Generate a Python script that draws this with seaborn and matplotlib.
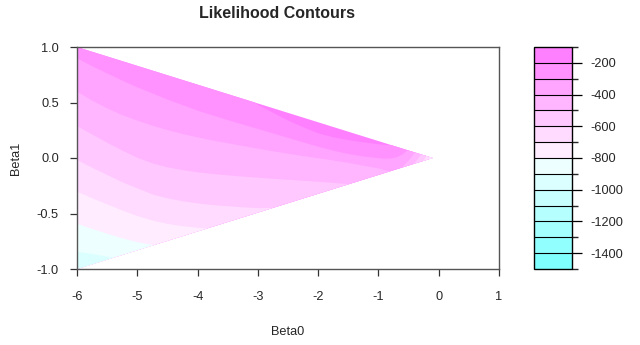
import numpy as np
import matplotlib
matplotlib.use("Agg")
import matplotlib.pyplot as plt
import seaborn as sns
from matplotlib.patches import Polygon
from matplotlib.colors import ListedColormap, BoundaryNorm
from matplotlib.cm import ScalarMappable

# contour lines: Beta1 position of each level at these Beta0 values
# (points outside the triangle only keep the curves in order; they are clipped away)
beta0 = [-6, -5.75, -5.5, -5.25, -5, -4.75, -4.5, -4.25, -4, -3.75, -3.5, -3.25, -3, -2.75,
         -2.5, -2.25, -2, -1.75, -1.5, -1.25, -1, -0.9, -0.8, -0.7, -0.6, -0.5, -0.45, -0.4,
         -0.35, -0.3, -0.25, -0.2, -0.16, -0.12, -0.1]

lev_m900 = [-0.84, -0.86, -0.885, -0.91, -1.3, -1.3, -1.3, -1.3, -1.3, -1.3, -1.3, -1.3, -1.3, -1.3,
            -1.3, -1.3, -1.3, -1.3, -1.3, -1.3, -1.3, -1.3, -1.3, -1.3, -1.3, -1.3, -1.3, -1.3,
            -1.3, -1.3, -1.3, -1.3, -1.3, -1.3, -1.3]
lev_m800 = [-0.59, -0.635, -0.68, -0.72, -0.755, -0.78, -0.80, -1.2, -1.2, -1.2, -1.2, -1.2, -1.2, -1.2,
            -1.2, -1.2, -1.2, -1.2, -1.2, -1.2, -1.2, -1.2, -1.2, -1.2, -1.2, -1.2, -1.2, -1.2,
            -1.2, -1.2, -1.2, -1.2, -0.15, 0.0, 0.05]
lev_m700 = [-0.30, -0.36, -0.415, -0.47, -0.52, -0.56, -0.59, -0.61, -0.625, -0.635, -0.70, -1.1, -1.1, -1.1,
            -1.1, -1.1, -1.1, -1.1, -1.1, -1.1, -1.1, -1.1, -1.1, -1.1, -1.1, -1.1, -1.1, -1.1,
            -1.1, -1.1, -0.12, -0.03, 0.0, 0.05, 0.1]
lev_m600 = [-0.015, -0.085, -0.15, -0.215, -0.27, -0.325, -0.36, -0.385, -0.405, -0.42, -0.43, -0.44, -0.447, -0.445,
            -0.47, -1.0, -1.0, -1.0, -1.0, -1.0, -1.0, -1.0, -1.0, -1.0, -1.0, -1.0, -1.0, -1.0,
            -0.2, -0.05, -0.01, 0.04, 0.1, 0.2, 0.3]
lev_m500 = [0.29, 0.215, 0.14, 0.07, 0.005, -0.045, -0.08, -0.105, -0.125, -0.14, -0.152, -0.163, -0.173, -0.183,
            -0.192, -0.201, -0.21, -0.22, -0.232, -0.25, -0.26, -0.25, -0.23, -0.2, -0.15, -0.09, -0.06, -0.035,
            0.0, 0.04, 0.15, 0.3, 0.4, 0.5, 0.6]
lev_m400 = [0.60, 0.52, 0.45, 0.39, 0.34, 0.295, 0.255, 0.22, 0.19, 0.162, 0.137, 0.112, 0.088, 0.065,
            0.043, 0.022, 0.002, -0.018, -0.04, -0.065, -0.09, -0.105, -0.115, -0.105, -0.07, -0.015, 0.02, 0.06,
            0.12, 0.2, 0.3, 0.4, 0.5, 0.6, 0.7]
lev_m300 = [0.90, 0.83, 0.765, 0.70, 0.64, 0.585, 0.53, 0.48, 0.43, 0.387, 0.345, 0.305, 0.265, 0.225,
            0.185, 0.145, 0.105, 0.07, 0.04, 0.018, 0.003, -0.002, 0.0, 0.012, 0.04, 0.085, 0.2, 0.3,
            0.4, 0.5, 0.6, 0.7, 0.8, 0.9, 1.0]
lev_m200 = [1.3, 1.3, 1.3, 1.3, 1.3, 1.3, 1.3, 1.3, 1.3, 1.3, 1.3, 0.6, 0.48, 0.41,
            0.34, 0.28, 0.225, 0.19, 0.165, 0.145, 0.128, 0.122, 0.12, 0.14, 1.3, 1.3, 1.3, 1.3,
            1.3, 1.3, 1.3, 1.3, 1.3, 1.3, 1.3]

# region where the likelihood is defined (triangle)
domain_b0 = [-6, -6, -0.1]
domain_b1 = [1, -1, 0]

levels = list(range(-1500, -99, 100))
cbar_ticks = list(range(-1400, -199, 200))

# R cm.colors(14)
colors = ["#80FFFF", "#92FFFF", "#A4FFFF", "#B6FFFF", "#C8FFFF", "#DBFFFF", "#EDFFFF",
          "#FFEDFF", "#FFDBFF", "#FFC8FF", "#FFB6FF", "#FFA4FF", "#FF92FF", "#FF80FF"]

sns.set_theme(style="white")
plt.rcParams['font.family'] = ['Liberation Sans', 'DejaVu Sans']
plt.rcParams['axes.unicode_minus'] = False

cmap = ListedColormap(colors)
norm = BoundaryNorm(levels, cmap.N)

fig = plt.figure(figsize=(6.4, 3.45), dpi=100)
ax = fig.add_axes([77 / 640, 76 / 345, 422 / 640, 222 / 345])
cax = fig.add_axes([534 / 640, 76 / 345, 38 / 640, 222 / 345])

tri = Polygon(np.column_stack([domain_b0, domain_b1]), closed=True, transform=ax.transData)

# paint from the highest band down; each fill covers everything below its upper contour
bands = [(None, -150), (lev_m200, -250), (lev_m300, -350), (lev_m400, -450), (lev_m500, -550),
         (lev_m600, -650), (lev_m700, -750), (lev_m800, -850), (lev_m900, -950)]
for upper, mid in bands:
    top = np.full(len(beta0), 1.5) if upper is None else np.array(upper)
    poly = ax.fill_between(beta0, -1.5, top, color=cmap(norm(mid)), linewidth=0)
    poly.set_clip_path(tri)

ax.set_xlim(-6, 1)
ax.set_ylim(-1, 1)
ax.set_xticks(range(-6, 2))
ax.set_yticks([-1.0, -0.5, 0.0, 0.5, 1.0])
ax.set_yticklabels(["-1.0", "-0.5", "0.0", "0.5", "1.0"])
ax.tick_params(direction="out", length=5, width=0.9, color="#333333", labelsize=9.2,
               pad=8, left=True, bottom=True)
ax.tick_params(axis="x", pad=10.5)
for sp in ax.spines.values():
    sp.set_color("#555555")
    sp.set_linewidth(1.0)
ax.set_xlabel("Beta0", fontsize=9.2, labelpad=17)
ax.set_ylabel("Beta1", fontsize=9.2, labelpad=11)

sm = ScalarMappable(norm=norm, cmap=cmap)
cb = fig.colorbar(sm, cax=cax, ticks=cbar_ticks, drawedges=True)
cb.outline.set_edgecolor("black")
cb.outline.set_linewidth(1.0)
cb.dividers.set_color("black")
cb.dividers.set_linewidth(0.8)
cax.tick_params(direction="out", length=7, width=0.9, color="black", labelsize=9.2, pad=6.5,
                right=True)

fig.text(277 / 640, 1 - 13 / 345, "Likelihood Contours", ha="center", va="center",
         fontsize=11.5, fontweight="bold")

fig.savefig("out.png", dpi=100, facecolor="white")
